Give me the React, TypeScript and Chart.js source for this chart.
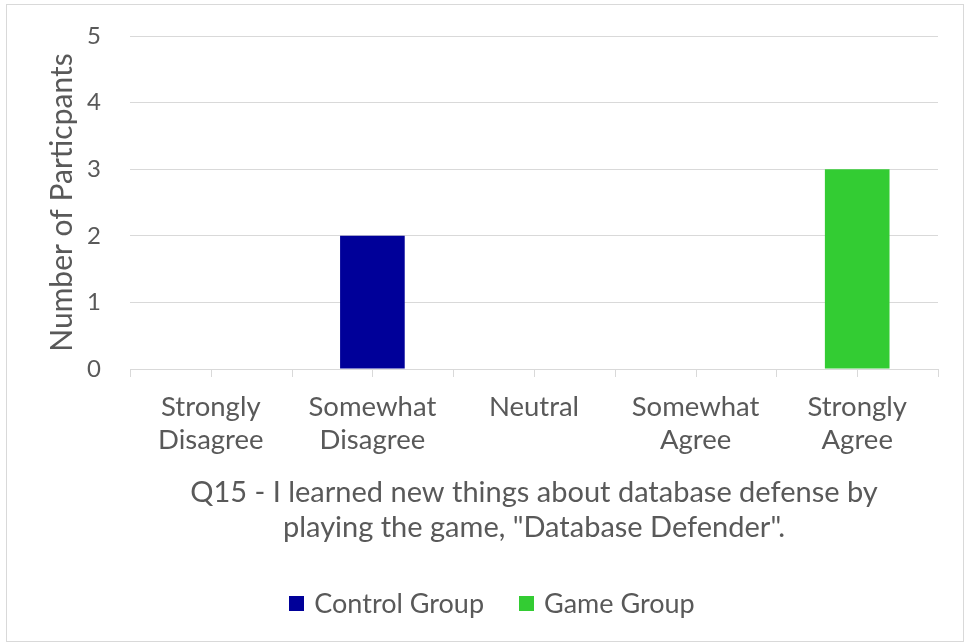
import React, { useEffect, useRef } from "react";
import { Chart, registerables } from "chart.js";

Chart.register(...registerables);

const categories: string[][] = [
  ["Strongly", "Disagree"],
  ["Somewhat", "Disagree"],
  ["Neutral"],
  ["Somewhat", "Agree"],
  ["Strongly", "Agree"],
];
const controlGroup: number[] = [0, 2, 0, 0, 0];
const gameGroup: number[] = [0, 0, 0, 0, 3];
const seriesNames: string[] = ["Control Group", "Game Group"];
const seriesColors: string[] = ["#000099", "#33CC33"];
const yMin = 0;
const yMax = 5;
const yStep = 1;
const xTitle: string[] = [
  "Q15 - I learned new things about database defense by",
  'playing the game, "Database Defender".',
];
const yTitle = "Number of Particpants";

const FONT = "Lato, 'Open Sans', sans-serif";
const TEXT = "#595959";
const GRID = "#d9d9d9";

const halfTicks = {
  id: "halfTicks",
  afterDraw(chart: any) {
    const { ctx, chartArea } = chart;
    const n = chart.data.labels.length;
    const step = (chartArea.right - chartArea.left) / (n * 2);
    ctx.save();
    ctx.strokeStyle = GRID;
    ctx.lineWidth = 1;
    for (let i = 0; i <= n * 2; i++) {
      const px = Math.round(chartArea.left + i * step) + 0.5;
      ctx.beginPath();
      ctx.moveTo(px, chartArea.bottom);
      ctx.lineTo(px, chartArea.bottom + 8);
      ctx.stroke();
    }
    ctx.restore();
  },
};

const customLegend = {
  id: "customLegend",
  afterDraw(chart: any) {
    const { ctx, width } = chart;
    const box = 15;
    const gap = 10;
    const spacing = 35;
    const y = 598;
    ctx.save();
    ctx.font = `27px ${FONT}`;
    const items = chart.data.datasets.map((d: any) => ({
      label: d.label,
      color: d.backgroundColor,
      w: ctx.measureText(d.label).width,
    }));
    const total =
      items.reduce((s: number, it: any) => s + box + gap + it.w, 0) +
      spacing * (items.length - 1);
    let x = width / 2 + 7 - total / 2;
    ctx.textBaseline = "middle";
    ctx.textAlign = "left";
    for (const it of items) {
      ctx.fillStyle = it.color;
      ctx.fillRect(Math.round(x), Math.round(y - box / 2), box, box);
      ctx.fillStyle = TEXT;
      ctx.fillText(it.label, x + box + gap, y + 1);
      x += box + gap + it.w + spacing;
    }
    ctx.restore();
  },
};

export default function App() {
  const ref = useRef<HTMLCanvasElement | null>(null);
  useEffect(() => {
    if (!ref.current) return;
    const chart = new Chart(ref.current, {
      type: "bar",
      data: {
        labels: categories,
        datasets: [
          {
            label: seriesNames[0],
            data: controlGroup,
            backgroundColor: seriesColors[0],
            categoryPercentage: 1,
            barPercentage: 0.4,
          },
          {
            label: seriesNames[1],
            data: gameGroup,
            backgroundColor: seriesColors[1],
            categoryPercentage: 1,
            barPercentage: 0.4,
          },
        ],
      },
      options: {
        animation: false,
        responsive: false,
        maintainAspectRatio: false,
        layout: { padding: { left: 0, right: 25, top: 31, bottom: 82 } },
        plugins: {
          legend: { display: false },
          tooltip: { enabled: false },
        },
        scales: {
          x: {
            stacked: true,
            grid: { display: false, drawTicks: false },
            border: { display: false },
            ticks: {
              color: TEXT,
              font: { family: FONT, size: 27.5, lineHeight: 1.2 },
              padding: 21.5,
              maxRotation: 0,
              autoSkip: false,
            },
            title: {
              display: true,
              text: xTitle,
              color: TEXT,
              font: { family: FONT, size: 29, lineHeight: 1.207 },
              padding: { top: 0, bottom: 14 },
            },
            afterFit: (s: any) => {
              s.height = 190;
              s.paddingLeft = 0;
              s.paddingRight = 0;
            },
          },
          y: {
            stacked: true,
            min: yMin,
            max: yMax,
            grid: { color: GRID, lineWidth: 1, drawTicks: false },
            border: { display: false },
            ticks: {
              stepSize: yStep,
              color: TEXT,
              font: { family: FONT, size: 24 },
              padding: 29,
            },
            title: {
              display: true,
              text: yTitle,
              color: TEXT,
              font: { family: FONT, size: 30, lineHeight: 1.2 },
              padding: { top: 37, bottom: 0 },
            },
            afterFit: (s: any) => {
              s.width = 123;
              s.paddingTop = 0;
              s.paddingBottom = 0;
            },
          },
        },
      },
      plugins: [halfTicks, customLegend],
    });
    return () => chart.destroy();
  }, []);

  return (
    <div
      style={{
        position: "absolute",
        left: 6,
        top: 4,
        width: 958,
        height: 638,
        border: "1px solid #d9d9d9",
        boxSizing: "border-box",
        background: "#fff",
      }}
    >
      <canvas ref={ref} width={956} height={636} style={{ display: "block" }} />
    </div>
  );
}
